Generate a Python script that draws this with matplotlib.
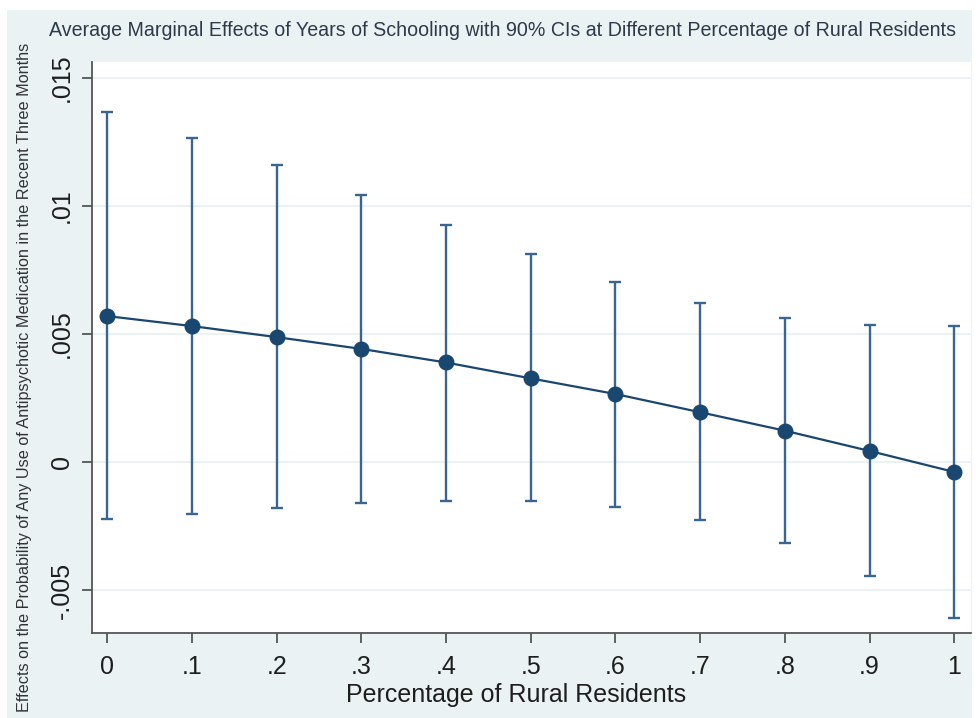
import matplotlib
matplotlib.use("Agg")
import matplotlib.pyplot as plt
from matplotlib.patches import Rectangle

# Share of rural residents at which marginal effects were evaluated
rural_share = [0.0, 0.1, 0.2, 0.3, 0.4, 0.5, 0.6, 0.7, 0.8, 0.9, 1.0]
# Average marginal effect of years of schooling
ame = [0.00570, 0.00531, 0.00488, 0.00442, 0.00389, 0.00327,
       0.00266, 0.00195, 0.00123, 0.00044, -0.00038]
# 90% confidence bounds
ci_upper = [0.01367, 0.01263, 0.01158, 0.01042, 0.00925, 0.00811,
            0.00704, 0.00620, 0.00561, 0.00535, 0.00531]
ci_lower = [-0.00223, -0.00201, -0.00180, -0.00159, -0.00150, -0.00153,
            -0.00174, -0.00227, -0.00316, -0.00445, -0.00607]

x_ticks = [0, 0.1, 0.2, 0.3, 0.4, 0.5, 0.6, 0.7, 0.8, 0.9, 1.0]
x_ticklabels = ["0", ".1", ".2", ".3", ".4", ".5", ".6", ".7", ".8", ".9", "1"]
y_ticks = [-0.005, 0.0, 0.005, 0.01, 0.015]
y_ticklabels = ["-.005", "0", ".005", ".01", ".015"]

title = ("Average Marginal Effects of Years of Schooling with 90% CIs "
         "at Different Percentage of Rural Residents")
x_title = "Percentage of Rural Residents"
y_title = ("Effects on the Probability of Any Use of Antipsychotic "
           "Medication in the Recent Three Months")

navy = "#1A476F"
bar_col = "#3A6590"
region = "#EAF2F3"
axis_col = "#555555"
text_col = "#1E1E1E"

plt.rcParams["font.family"] = ["Liberation Sans", "DejaVu Sans"]

fig = plt.figure(figsize=(9.76, 7.18), dpi=100, facecolor="white")
fig.patches.append(Rectangle((7 / 976, 0), 965 / 976, 708 / 718,
                             transform=fig.transFigure, facecolor=region,
                             edgecolor="none", zorder=-10))

ax = fig.add_axes([92 / 976, 1 - 633 / 718, 879 / 976, 571 / 718])
ax.set_facecolor("white")

yerr = [[m - lo for m, lo in zip(ame, ci_lower)],
        [hi - m for m, hi in zip(ame, ci_upper)]]
ax.errorbar(rural_share, ame, yerr=yerr, fmt="none", ecolor=bar_col,
            elinewidth=1.7, capsize=4.3, capthick=1.7, zorder=2)
ax.plot(rural_share, ame, color=navy, lw=1.6, marker="o", ms=10.5,
        markerfacecolor=navy, markeredgecolor=navy, zorder=3)

ax.set_xlim(-0.018, 1.0197)
ax.set_ylim(-0.00666, 0.01561)

ax.set_xticks(x_ticks)
ax.set_xticklabels(x_ticklabels)
ax.set_yticks(y_ticks)
ax.set_yticklabels(y_ticklabels, rotation=90, va="center")

ax.grid(axis="y", color=region, lw=1.5, zorder=0)
ax.grid(axis="x", visible=False)
ax.set_axisbelow(True)

for side in ("top", "right"):
    ax.spines[side].set_visible(False)
for side in ("left", "bottom"):
    ax.spines[side].set_color(axis_col)
    ax.spines[side].set_linewidth(1.3)

ax.tick_params(axis="both", direction="out", length=7, width=1.3,
               color=axis_col, labelsize=18, labelcolor=text_col, pad=6)
ax.tick_params(axis="x", pad=9)

fig.text(516 / 976, 1 - 695 / 718, x_title, fontsize=18, color=text_col,
         ha="center", va="center")
fig.text(25 / 976, 1 - 377 / 718, y_title, rotation=90, fontsize=11.7,
         color="#333333", ha="center", va="center")
fig.text(502 / 976, 1 - 31 / 718, title, fontsize=14.1, color="#2E3A4A",
         ha="center", va="center")

fig.savefig("out.png", dpi=100, facecolor="white")
